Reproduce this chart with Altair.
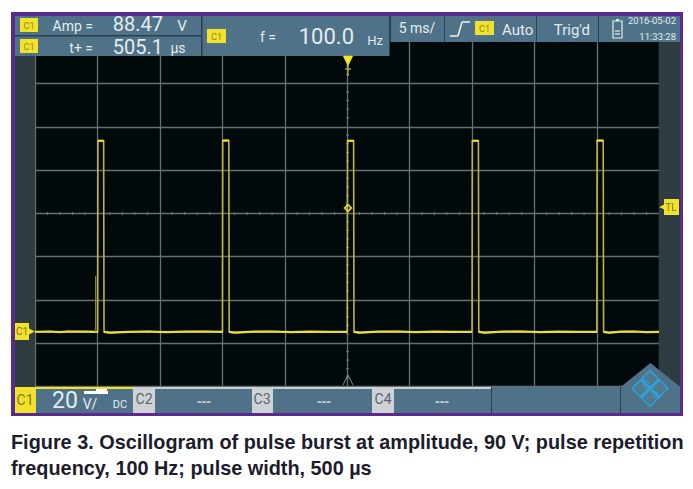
import altair as alt
import pandas as pd

# values
trace_t = [0.0, 1.2, 2.0, 2.6, 4.0, 5.02, 5.04, 5.50, 5.53, 6.0, 7.5, 9.0, 10.5, 12.0, 13.5, 15.02, 15.04, 15.53, 15.56, 16.0, 17.5, 19.0, 20.5, 22.0, 23.5,
           25.02, 25.04, 25.53, 25.56, 26.0, 27.5, 29.0, 30.5, 32.0, 33.5, 35.02, 35.04, 35.53, 35.56, 36.0, 37.5, 39.0, 40.5, 42.0, 43.5,
           45.02, 45.04, 45.53, 45.56, 46.0, 47.0, 48.0, 49.0, 50.0]
trace_v = [0.0, 0.2, -0.1, 0.2, 0.1, 0.0, 88.4, 88.4, 0.0, -0.3, 0.0, 0.2, -0.1, 0.1, 0.2, 0.0, 88.5, 88.5, 0.0, -0.3, 0.1, 0.2, -0.1, 0.1, 0.0,
           0.0, 88.4, 88.4, 0.0, -0.3, 0.1, 0.2, -0.1, 0.1, 0.0, 0.0, 88.4, 88.4, 0.0, -0.3, 0.1, 0.2, -0.1, 0.1, 0.0,
           0.0, 88.5, 88.5, 0.0, -0.3, 0.1, 0.2, -0.1, 0.0]
pre_t = [4.86, 4.86]
pre_v = [0.0, 26.0]
grid_t = [0, 5, 10, 15, 20, 25, 30, 35, 40, 45, 50]
grid_v = [-25, -5, 15, 35, 55, 75, 95, 115, 135]
minor_t = [1, 2, 3, 4, 6, 7, 8, 9, 11, 12, 13, 14, 16, 17, 18, 19, 21, 22, 23, 24, 26, 27, 28, 29,
           31, 32, 33, 34, 36, 37, 38, 39, 41, 42, 43, 44, 46, 47, 48, 49]
minor_v = [-21, -17, -13, -9, -1, 3, 7, 11, 19, 23, 27, 31, 39, 43, 47, 51, 59, 63, 67, 71,
           79, 83, 87, 91, 99, 103, 107, 111, 119, 123, 127, 131]
caption = ["Figure 3. Oscillogram of pulse burst at amplitude, 90 V; pulse repetition",
           "frequency, 100 Hz; pulse width, 500 µs"]

OX, OY = 35, 40
W, H = 624, 346
PANEL = "#4f7288"
YEL = "#f3e22c"
NARROW = "Roboto"
one = pd.DataFrame({"a": [0]})
xs = alt.Scale(domain=[0, 50], range=[0, W])
ys = alt.Scale(domain=[-25, 135], range=[H, 0])


def rect(x0, y0, x1, y1, color, **kw):
    return alt.Chart(one).mark_rect(color=color, **kw).encode(
        x=alt.value(x0 - OX), x2=alt.value(x1 - OX), y=alt.value(y0 - OY), y2=alt.value(y1 - OY))


def label(x, y, s, size=12, color="#e4ecef", align="center", font=NARROW, weight="normal"):
    return alt.Chart(one).mark_text(fontSize=size, color=color, align=align, baseline="middle",
                                    font=font, fontWeight=weight).encode(
        x=alt.value(x - OX), y=alt.value(y - OY), text=alt.value(s))


def shape(x, y, path, size, fill=None, stroke=None, sw=1.0):
    kw = dict(shape=path, size=size, strokeWidth=sw, opacity=1)
    if fill:
        kw.update(fill=fill, filled=True)
    if stroke:
        kw.update(stroke=stroke)
    else:
        kw.update(strokeWidth=0)
    return alt.Chart(one).mark_point(**kw).encode(x=alt.value(x - OX), y=alt.value(y - OY))


def seg(x0, y0, x1, y1, color, sw=1.0):
    return alt.Chart(one).mark_rule(color=color, strokeWidth=sw).encode(
        x=alt.value(x0 - OX), x2=alt.value(x1 - OX), y=alt.value(y0 - OY), y2=alt.value(y1 - OY))


def chip(x0, y0, x1, y1, s="C1", size=9):
    return [rect(x0, y0, x1, y1, YEL), label((x0 + x1) / 2, (y0 + y1) / 2 + .5, s, size, "#8f8a1e")]


base_axis_x = alt.Axis(values=grid_t, grid=True, gridColor="#667070", gridWidth=1.3, labels=False,
                       ticks=False, domain=False, title=None)
base_axis_y = alt.Axis(values=grid_v, grid=True, gridColor="#667070", gridWidth=1.3, labels=False,
                       ticks=False, domain=False, title=None)

tdf = pd.DataFrame({"t": trace_t, "v": trace_v})
trace = alt.Chart(tdf).mark_line(color="#bdb348", strokeWidth=1.6, strokeJoin="miter").encode(
    x=alt.X("t:Q", scale=xs, axis=base_axis_x), y=alt.Y("v:Q", scale=ys, axis=base_axis_y))

# flat parts of the trace (baseline and pulse tops) glow brighter
groups, g = [], 0
for i, v in enumerate(trace_v):
    if i and (trace_v[i] > 44) != (trace_v[i - 1] > 44):
        g += 1
    groups.append(g)
tdf2 = tdf.assign(g=groups)
bright = alt.Chart(tdf2).mark_line(color="#eadd38", strokeWidth=2.2).encode(
    x=alt.X("t:Q", scale=xs), y=alt.Y("v:Q", scale=ys), detail="g:N")

pre = alt.Chart(pd.DataFrame({"t": pre_t, "v": pre_v})).mark_line(color="#8f8a35", strokeWidth=1.2).encode(
    x=alt.X("t:Q", scale=xs), y=alt.Y("v:Q", scale=ys))
mt = alt.Chart(pd.DataFrame({"t": minor_t})).mark_rule(color="#6c7573", strokeWidth=1).encode(
    x=alt.X("t:Q", scale=xs), y=alt.value(212 - OY), y2=alt.value(215 - OY))
mv = alt.Chart(pd.DataFrame({"v": minor_v})).mark_rule(color="#6c7573", strokeWidth=1).encode(
    y=alt.Y("v:Q", scale=ys), x=alt.value(346 - OX), x2=alt.value(349 - OX))

layers = [mt, mv, trace, bright, pre]
# instrument frame
layers += [
    rect(11, 12, 683, 16, "#5a2a8e"), rect(11, 413, 683, 416, "#5a2a8e"),
    rect(11, 12, 15, 416, "#5a2a8e"), rect(680, 12, 683, 416, "#5a2a8e"),
    rect(15, 56, 35, 387, "#2e3d42"), rect(659, 42, 680, 387, "#2e3d42"),
]
# top panels
layers += [rect(15, 16, 390, 56, "#2c3f4d"), rect(389, 16, 680, 42, "#2c3f4d"),
           rect(15, 16, 201, 35, PANEL), rect(15, 36.5, 201, 56, PANEL), rect(202.5, 16, 389, 56, PANEL),
           rect(391, 16, 444, 42, PANEL), rect(445, 16, 536, 42, PANEL), rect(537, 16, 598, 42, PANEL),
           rect(599, 16, 680, 42, PANEL)]
layers += chip(20, 18, 38, 32) + chip(20, 39, 38, 53) + chip(207, 29, 226, 43) + chip(475, 21, 494, 35)
layers += [
    label(93, 27, "Amp =", 14, align="right"), label(93, 49, "t+ =", 14, align="right"),
    label(163, 25, "88.47", 20, align="right"), label(163, 48, "505.1", 20, align="right"),
    label(182, 26, "V", 15), label(178, 49, "µs", 14),
    label(276, 38, "f =", 14, align="right"), label(354, 37, "100.0", 22, align="right"),
    label(375, 41, "Hz", 13),
    label(417, 29, "5 ms/", 14),
    label(502, 30, "Auto", 15, align="left"), label(590, 30, "Trig'd", 15, align="right"),
    label(676, 21, "2016-05-02", 9.5, align="right"), label(676, 37, "11:33:28", 9.5, align="right"),
]
# trigger-slope glyph
layers += [seg(450, 36, 458, 36, "#e4ecef", 1.6), seg(458, 36, 462, 22, "#e4ecef", 1.6), seg(462, 22, 470, 22, "#e4ecef", 1.6)]
# battery glyph
layers += [rect(613, 21, 622, 38, PANEL, stroke="#e4ecef", strokeWidth=1.2), rect(616, 19, 619, 21, "#e4ecef"),
           seg(615, 31, 620, 31, "#e4ecef", 1.2), seg(615, 34, 620, 34, "#e4ecef", 1.2)]
# bottom panels
layers += [
    rect(15, 387, 680, 413, "#2c3f4d"),
    rect(15, 387, 491, 389, "#c9d0d3"), rect(15, 387, 133, 389, YEL),
    rect(15, 389, 36, 413, YEL), rect(36, 389, 133, 413, PANEL),
    rect(133, 389, 155, 413, "#cfd3d6"), rect(155, 389, 252, 413, PANEL),
    rect(252, 389, 273, 413, "#cfd3d6"), rect(273, 389, 372, 413, PANEL),
    rect(372, 389, 394, 413, "#cfd3d6"), rect(394, 389, 491, 413, PANEL),
    rect(492, 387, 620, 413, PANEL), rect(621, 387, 680, 413, PANEL),
    label(25, 401, "C1", 14, "#7d7a25"), label(144, 400, "C2", 14, "#57656e"),
    label(262, 400, "C3", 14, "#57656e"), label(383, 400, "C4", 14, "#57656e"),
    label(65, 401, "20", 23), label(90, 405, "V/", 14), label(120, 405, "DC", 11),
    rect(84, 391, 108, 394, "#ffffff"), rect(96, 389, 107, 392, "#ffffff"),
    label(204, 402, "---", 14, "#c4ced4", font="Liberation Sans", weight="bold"),
    label(324, 402, "---", 14, "#c4ced4", font="Liberation Sans", weight="bold"),
    label(442, 402, "---", 14, "#c4ced4", font="Liberation Sans", weight="bold"),
]
# markers
TRI_D = "M-1,-1 L1,-1 L0,1 Z"
TRI_U = "M0,-1 L1,1 M0,-1 L-1,1"
layers += [
    shape(348, 61, TRI_D, 110, fill=YEL),
    seg(348, 65, 348, 76, "#c9b83a", 1.2), seg(345, 69, 351, 69, "#c9b83a", 1.2),
    shape(348, 380, TRI_U, 100, stroke="#8c9492", sw=1),
    shape(348, 208, "M0,-1 L1,0 L0,1 L-1,0 Z", 45, stroke="#dccf39", sw=1.8),
    rect(15, 323, 29, 340, YEL), shape(29, 331.5, "M-1,-1 L1,0 L-1,1 Z", 140, fill=YEL),
    label(22, 332, "C1", 10, "#7d7a25"),
    rect(664, 199, 679, 215, YEL), shape(664, 207, "M1,-1 L-1,0 L1,1 Z", 90, fill=YEL),
    label(671, 207.5, "TL", 10, "#7d7a25"),
]
# logo
DIA = "M0,-1 L1,0 L0,1 L-1,0 Z"
layers += [
    shape(650.5, 387, "M0,-0.8 L1,0 L-1,0 Z", 3600, fill=PANEL),
    shape(650, 388.5, DIA, 1450, fill="#2f9fd6"),
    shape(650, 379, DIA, 215, fill="#4f7a90"), shape(640.5, 388.5, DIA, 215, fill="#4f7a90"),
    shape(659.5, 388.5, DIA, 215, fill="#4f7a90"), shape(650, 398, DIA, 215, fill="#4f7a90"),
    label(647, 385, "R", 9, "#2f9fd6"), label(655, 395, "S", 9, "#2f9fd6"),
]
# caption
layers += [
    label(11, 443, caption[0], 19.85, "#1c1c2c", "left", "Liberation Sans", "bold"),
    label(11, 468.5, caption[1], 19.85, "#1c1c2c", "left", "Liberation Sans", "bold"),
]

chart = alt.layer(*layers).properties(
    width=W, height=H, background="white",
    padding={"left": OX - 8, "top": OY - 8, "right": 26, "bottom": 95},
    autosize=alt.AutoSizeParams(type="none"),
).configure_view(stroke=None, fill="#02090b")

chart.save("out.html", embed_options={"renderer": "svg", "actions": False})
